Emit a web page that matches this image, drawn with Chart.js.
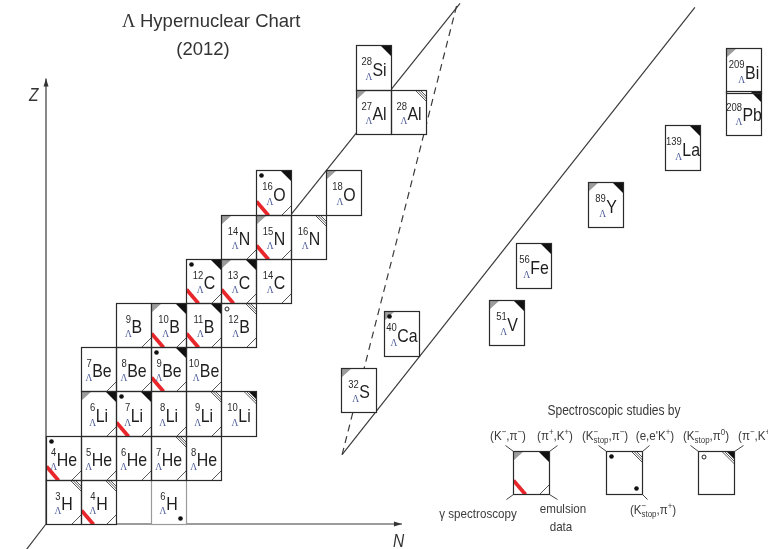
<!DOCTYPE html>
<html lang="en">
<head>
<meta charset="UTF-8" />
<title>hypernuclear chart</title>
<script src="https://cdn.jsdelivr.net/npm/chart.js@4.4.1/dist/chart.umd.min.js"></script>
<style>
  html, body { margin: 0; padding: 0; background: #fff; }
  canvas { display: block; }
</style>
</head>
<body>
<canvas id="chart" width="768" height="549"></canvas>
<script>
// known hypernuclei: mass number, element, plotted N / Z
// (the heavy ones sit on the compressed part of the chart)
const cellMass = [3, 4, 6, 4, 5, 6, 7, 8, 6, 7, 8, 9, 10, 7, 8, 9, 10, 9, 10, 11, 12,
  12, 13, 14, 14, 15, 16, 16, 18, 28, 27, 28, 32, 40, 51, 56, 89, 139, 208, 209];
const cellSymbol = ["H", "H", "H", "He", "He", "He", "He", "He", "Li", "Li", "Li", "Li", "Li",
  "Be", "Be", "Be", "Be", "B", "B", "B", "B", "C", "C", "C", "N", "N", "N", "O", "O",
  "Si", "Al", "Al", "S", "Ca", "V", "Fe", "Y", "La", "Pb", "Bi"];
const cellN = [1, 2, 4, 1, 2, 3, 4, 5, 2, 3, 4, 5, 6, 2, 3, 4, 5, 3, 4, 5, 6,
  5, 6, 7, 6, 7, 8, 7, 9, 9.86, 9.86, 10.86, 9.43, 10.66, 13.66, 14.43, 16.49, 18.69, 20.43, 20.43];
const cellZ = [1, 1, 1, 2, 2, 2, 2, 2, 3, 3, 3, 3, 3, 4, 4, 4, 4, 5, 5, 5, 5,
  6, 6, 6, 7, 7, 7, 8, 8, 10.83, 9.83, 9.83, 3.54, 4.81, 5.06, 6.35, 7.73, 9.02, 9.79, 10.76];
// g (K-,pi-)  k (pi+,K+)  e (e,e'K+)  p (pi-,K+)  d (K-stop,pi-)  o (K-stop,pi0)
// b (K-stop,pi+)  r gamma spectroscopy  m emulsion data
const cellMarks = ["em", "erm", "b", "drm", "m", "m", "me", "m", "gkm", "dkrm", "m", "me", "p",
  "m", "m", "dkrm", "m", "m", "gkrm", "krm", "oem", "dkrm", "gkrm", "m", "gm", "grm", "e",
  "dkrm", "g", "k", "g", "e", "g", "gd", "gk", "k", "gk", "k", "k", "g"];

// axes and guide lines, in the same N / Z units
const zAxis = [{ x: 0, y: 0 }, { x: 0, y: 10.08 }];
const nAxis = [{ x: 0, y: 0 }, { x: 10.17, y: 0 }];
const depthAxis = [{ x: 0, y: 0 }, { x: -0.6, y: -0.62 }];
const lineUpper = [{ x: 7, y: 7 }, { x: 11.83, y: 11.78 }];
const lineDashed = [{ x: 8.46, y: 1.57 }, { x: 11.74, y: 11.75 }];
const lineLower = [{ x: 8.46, y: 1.57 }, { x: 18.54, y: 11.69 }];

const SQ = 0.86; // the reference text is a bit condensed
const SANS = '"Liberation Sans", Arial, sans-serif';
const SERIF = '"Liberation Serif", "Times New Roman", serif';

function tri(ctx, ax, ay, bx, by, cx, cy) {
  ctx.beginPath();
  ctx.moveTo(ax, ay); ctx.lineTo(bx, by); ctx.lineTo(cx, cy);
  ctx.closePath();
  ctx.fill();
}
function seg(ctx, ax, ay, bx, by) {
  ctx.beginPath();
  ctx.moveTo(ax, ay); ctx.lineTo(bx, by);
  ctx.stroke();
}
function dot(ctx, x, y, r, fill) {
  ctx.beginPath();
  ctx.arc(x, y, r, 0, Math.PI * 2);
  if (fill) ctx.fill(); else ctx.stroke();
}
function squeezed(ctx, text, x, y) {
  ctx.save();
  ctx.translate(x, y);
  ctx.scale(SQ, 1);
  ctx.fillText(text, 0, 0);
  ctx.restore();
}

function drawMarks(ctx, b, marks) {
  const { x0, y0, x1, y1 } = b;
  ctx.save();
  ctx.beginPath();
  ctx.rect(x0, y0, x1 - x0, y1 - y0);
  ctx.clip();
  if (marks.includes("g")) {
    ctx.fillStyle = "#9c9c9c";
    tri(ctx, x0, y0, x0 + 10, y0, x0, y0 + 9);
  }
  if (marks.includes("k")) {
    ctx.fillStyle = "#111";
    tri(ctx, x1, y0, x1 - 11, y0, x1, y0 + 11);
  }
  ctx.strokeStyle = "#555";
  ctx.lineWidth = 1;
  if (marks.includes("p")) {
    ctx.fillStyle = "#111";
    tri(ctx, x1, y0, x1 - 8, y0, x1, y0 + 8);
    [10, 12.5].forEach((o) => seg(ctx, x1 - o, y0, x1, y0 + o));
  }
  if (marks.includes("e")) {
    [6, 8.5, 11].forEach((o) => seg(ctx, x1 - o, y0, x1, y0 + o));
  }
  if (marks.includes("m")) {
    seg(ctx, x1 - 10, y1, x1, y1 - 10);
  }
  if (marks.includes("r")) {
    ctx.strokeStyle = "#e8262b";
    ctx.lineWidth = 3.8;
    seg(ctx, x0, y1 - 14, x0 + 12, y1);
  }
  ctx.fillStyle = "#111";
  ctx.strokeStyle = "#222";
  ctx.lineWidth = 1;
  if (marks.includes("d")) dot(ctx, x0 + 5, y0 + 5, 2.3, true);
  if (marks.includes("o")) dot(ctx, x0 + 5.5, y0 + 5.5, 2, false);
  if (marks.includes("b")) dot(ctx, x1 - 6, y1 - 6, 2.3, true);
  ctx.restore();
}

function drawLabel(ctx, b, mass, sym) {
  const w = b.x1 - b.x0, h = b.y1 - b.y0;
  ctx.font = "11px " + SANS;
  const mw = ctx.measureText(String(mass)).width * SQ;
  ctx.font = "18.5px " + SANS;
  const ew = ctx.measureText(sym).width * SQ;
  const gx = b.x0 + (w - mw - ew - 0.5) / 2;
  ctx.fillStyle = "#2a2a2a";
  ctx.font = "11px " + SANS;
  squeezed(ctx, String(mass), gx, b.y0 + h * 0.44);
  ctx.fillStyle = "#1e1e1e";
  ctx.font = "18.5px " + SANS;
  squeezed(ctx, sym, gx + mw + 0.5, b.y0 + h * 0.68);
  ctx.fillStyle = "#4d5c9a";
  ctx.font = "11px " + SERIF;
  ctx.textAlign = "center";
  squeezed(ctx, "Λ", Math.max(gx + mw / 2, gx + mw - 3), b.y0 + h * 0.76);
  ctx.textAlign = "left";
}

// rich text: parts of [text, superscript, subscript]
function drawRich(ctx, parts, cx, base, size) {
  const small = size * 0.68;
  const widths = parts.map(([t, sup, sub]) => {
    ctx.font = size + "px " + SANS;
    const a = ctx.measureText(t).width;
    ctx.font = small + "px " + SANS;
    const c = Math.max(ctx.measureText(sup).width, ctx.measureText(sub).width);
    return [a, c];
  });
  const total = widths.reduce((s, [a, c]) => s + a + c, 0) * SQ;
  let x = cx - total / 2;
  parts.forEach(([t, sup, sub], i) => {
    ctx.font = size + "px " + SANS;
    squeezed(ctx, t, x, base);
    x += widths[i][0] * SQ;
    ctx.font = small + "px " + SANS;
    if (sup) squeezed(ctx, sup, x, base - size * 0.4);
    if (sub) squeezed(ctx, sub, x, base + size * 0.25);
    x += widths[i][1] * SQ;
  });
}

const cellPlugin = {
  id: "cells",
  afterDatasetsDraw(chart) {
    const { ctx } = chart;
    const xs = chart.scales.x, ys = chart.scales.y;
    const boxes = cellN.map((n, i) => ({
      x0: Math.round(xs.getPixelForValue(n - 1)) + 0.5,
      x1: Math.round(xs.getPixelForValue(n)) + 0.5,
      y0: Math.round(ys.getPixelForValue(cellZ[i])) + 0.5,
      y1: Math.round(ys.getPixelForValue(cellZ[i] - 1)) + 0.5,
    }));
    ctx.save();
    ctx.fillStyle = "#fff";
    boxes.forEach((b) => ctx.fillRect(b.x0, b.y0, b.x1 - b.x0, b.y1 - b.y0));
    boxes.forEach((b, i) => {
      drawMarks(ctx, b, cellMarks[i]);
      ctx.strokeStyle = cellMarks[i] === "b" ? "#9a9a9a" : "#2a2a2a";
      ctx.lineWidth = 1.2;
      ctx.strokeRect(b.x0, b.y0, b.x1 - b.x0, b.y1 - b.y0);
      drawLabel(ctx, b, cellMass[i], cellSymbol[i]);
    });
    ctx.restore();
  },
  afterDraw(chart) {
    const { ctx } = chart;
    const xs = chart.scales.x, ys = chart.scales.y;
    ctx.save();
    // arrow heads
    ctx.fillStyle = "#333";
    const zx = xs.getPixelForValue(zAxis[1].x), zy = ys.getPixelForValue(zAxis[1].y);
    tri(ctx, zx, zy, zx - 2.5, zy + 8, zx + 2.5, zy + 8);
    const nx = xs.getPixelForValue(nAxis[1].x), ny = ys.getPixelForValue(nAxis[1].y);
    tri(ctx, nx, ny, nx - 8, ny - 2.5, nx - 8, ny + 2.5);

    // axis names
    ctx.fillStyle = "#333";
    ctx.font = "italic 18px " + SANS;
    squeezed(ctx, "Z", zx - 17, zy + 23);
    squeezed(ctx, "N", nx - 9, ny + 23);

    // title
    ctx.fillStyle = "#333";
    ctx.font = "18.5px " + SERIF;
    ctx.fillText("Λ", 122, 27);
    ctx.font = "18.5px " + SANS;
    ctx.fillText("Hypernuclear Chart", 140, 27);
    ctx.textAlign = "center";
    ctx.fillText("(2012)", 203, 55);
    ctx.textAlign = "left";

    // legend
    ctx.fillStyle = "#3a3a3a";
    ctx.font = "14px " + SANS;
    ctx.textAlign = "center";
    squeezed(ctx, "Spectroscopic studies by", 614, 415);
    ctx.textAlign = "left";
    const fs = 13.5;
    drawRich(ctx, [["(K", "−", ""], [",π", "−", ""], [")", "", ""]], 508, 440, fs);
    drawRich(ctx, [["(π", "+", ""], [",K", "+", ""], [")", "", ""]], 555, 440, fs);
    drawRich(ctx, [["(K", "−", "stop"], [",π", "−", ""], [")", "", ""]], 605, 440, fs);
    drawRich(ctx, [["(e,e'K", "+", ""], [")", "", ""]], 655, 440, fs);
    drawRich(ctx, [["(K", "−", "stop"], [",π", "0", ""], [")", "", ""]], 706, 440, fs);
    drawRich(ctx, [["(π", "−", ""], [",K", "+", ""], [")", "", ""]], 756, 440, fs);
    drawRich(ctx, [["(K", "−", "stop"], [",π", "+", ""], [")", "", ""]], 653, 514, fs);
    drawRich(ctx, [["γ spectroscopy", "", ""]], 478, 518, fs);
    drawRich(ctx, [["emulsion", "", ""]], 563, 513, fs);
    drawRich(ctx, [["data", "", ""]], 561, 531, fs);

    const legendBoxes = [
      { x0: 513.5, y0: 451.5, x1: 549.5, y1: 494.5, marks: "gkrm" },
      { x0: 606.5, y0: 451.5, x1: 642.5, y1: 494.5, marks: "deb" },
      { x0: 698.5, y0: 451.5, x1: 734.5, y1: 494.5, marks: "op" },
    ];
    legendBoxes.forEach((b) => {
      ctx.fillStyle = "#fff";
      ctx.fillRect(b.x0, b.y0, b.x1 - b.x0, b.y1 - b.y0);
      drawMarks(ctx, b, b.marks);
      ctx.strokeStyle = "#2a2a2a";
      ctx.lineWidth = 1.2;
      ctx.strokeRect(b.x0, b.y0, b.x1 - b.x0, b.y1 - b.y0);
    });
    ctx.strokeStyle = "#444";
    ctx.lineWidth = 1;
    const [l1, l2, l3] = legendBoxes;
    seg(ctx, l1.x0, l1.y0, l1.x0 - 8, l1.y0 - 6);
    seg(ctx, l1.x1, l1.y0, l1.x1 + 8, l1.y0 - 6);
    seg(ctx, l1.x0, l1.y1, l1.x0 - 7, l1.y1 + 5);
    seg(ctx, l1.x1, l1.y1, l1.x1 + 8, l1.y1 + 5);
    seg(ctx, l2.x0, l2.y0, l2.x0 - 8, l2.y0 - 6);
    seg(ctx, l2.x1, l2.y0, l2.x1 + 7, l2.y0 - 6);
    seg(ctx, l2.x1, l2.y1, l2.x1 + 5, l2.y1 + 5);
    seg(ctx, l3.x0, l3.y0, l3.x0 - 8, l3.y0 - 6);
    seg(ctx, l3.x1, l3.y0, l3.x1 + 9, l3.y0 - 6);
    ctx.restore();
  },
};

const guide = (data, dash) => ({
  type: "scatter",
  data,
  showLine: true,
  pointRadius: 0,
  borderColor: "#3a3a3a",
  borderWidth: 1.2,
  borderDash: dash || [],
});

new Chart(document.getElementById("chart"), {
  type: "scatter",
  data: {
    datasets: [
      guide(zAxis),
      guide(nAxis),
      guide(depthAxis),
      guide(lineUpper),
      guide(lineDashed, [7, 5]),
      guide(lineLower),
      {
        label: "hypernuclei",
        data: cellN.map((n, i) => ({ x: n - 0.5, y: cellZ[i] - 0.5 })),
        pointRadius: 0,
      },
    ],
  },
  options: {
    responsive: false,
    animation: false,
    devicePixelRatio: 1,
    layout: { padding: 0 },
    plugins: { legend: { display: false }, tooltip: { enabled: false } },
    scales: {
      x: { type: "linear", display: false, min: -46 / 35, max: 722 / 35 },
      y: { type: "linear", display: false, min: -25 / 44.2, max: 524 / 44.2 },
    },
  },
  plugins: [cellPlugin],
});
</script>
</body>
</html>
